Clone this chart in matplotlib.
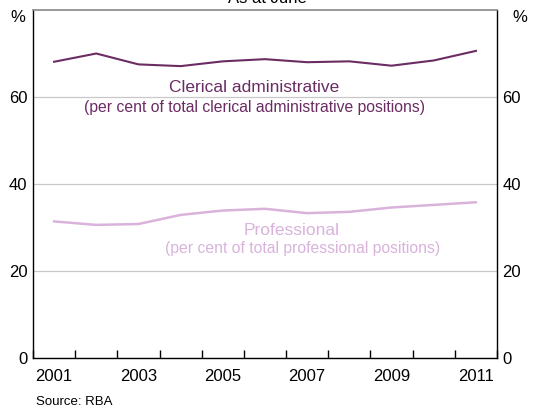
import matplotlib.pyplot as plt

plt.rcParams['font.family'] = ['Liberation Sans', 'DejaVu Sans']

# As at June each year
years = [2001, 2002, 2003, 2004, 2005, 2006, 2007, 2008, 2009, 2010, 2011]
clerical = [68.1, 70.0, 67.5, 67.1, 68.2, 68.7, 68.0, 68.2, 67.2, 68.4, 70.6]
professional = [31.4, 30.6, 30.8, 32.9, 33.9, 34.3, 33.3, 33.6, 34.6, 35.2, 35.8]
tick_labels = ['2001', '2003', '2005', '2007', '2009', '2011']
y_ticks = [0, 20, 40, 60]

dark = '#6b2c63'
light = '#d9b3dc'

fig = plt.figure(figsize=(5.34, 4.07), dpi=100)
ax = fig.add_axes([0.0618, 0.1204, 0.8689, 0.855])

xs = [y + 0.5 for y in years]
ax.plot(xs, clerical, color=dark, lw=1.5)
ax.plot(xs, professional, color=light, lw=1.8)

ax.set_xlim(2001, 2012)
ax.set_ylim(0, 80)
ax.set_yticks(y_ticks)
ax.grid(axis='y', color='#c8c8c8', lw=0.9)
ax.set_axisbelow(True)

ax.set_xticks(range(2001, 2013))
ax.set_xticks([int(t) + 0.5 for t in tick_labels], minor=True)
ax.set_xticklabels([], minor=False)
ax.set_xticklabels(tick_labels, minor=True)
ax.tick_params(axis='x', which='major', direction='in', length=6, width=1)
ax.tick_params(axis='x', which='minor', length=0, labelsize=12, pad=8)
ax.tick_params(axis='y', length=0, labelsize=12, pad=4,
               labelright=True, right=False)

for s in ['left', 'right', 'bottom']:
    ax.spines[s].set_color('black')
    ax.spines[s].set_linewidth(1)
ax.spines['top'].set_color('#888888')
ax.spines['top'].set_linewidth(1.2)

ax.text(2006.25, 62.3, 'Clerical administrative', color=dark,
        fontsize=12.5, ha='center', va='center')
ax.text(2006.24, 57.7, '(per cent of total clerical administrative positions)',
        color=dark, fontsize=11.3, ha='center', va='center')
ax.text(2007.12, 29.4, 'Professional', color=light,
        fontsize=12.5, ha='center', va='center')
ax.text(2007.39, 25.1, '(per cent of total professional positions)',
        color=light, fontsize=11.3, ha='center', va='center')

fig.text(18 / 534, 1 - 18 / 407, '%', fontsize=12, ha='center', va='center')
fig.text(520 / 534, 1 - 18 / 407, '%', fontsize=12, ha='center', va='center')
fig.text(0.5, 1 - 3 / 407, 'As at June', fontsize=12, ha='center', va='baseline')
fig.text(36 / 534, 1 - 402 / 407, 'Source: RBA', fontsize=9.5,
         ha='left', va='center')

fig.savefig('out.png', dpi=100)
